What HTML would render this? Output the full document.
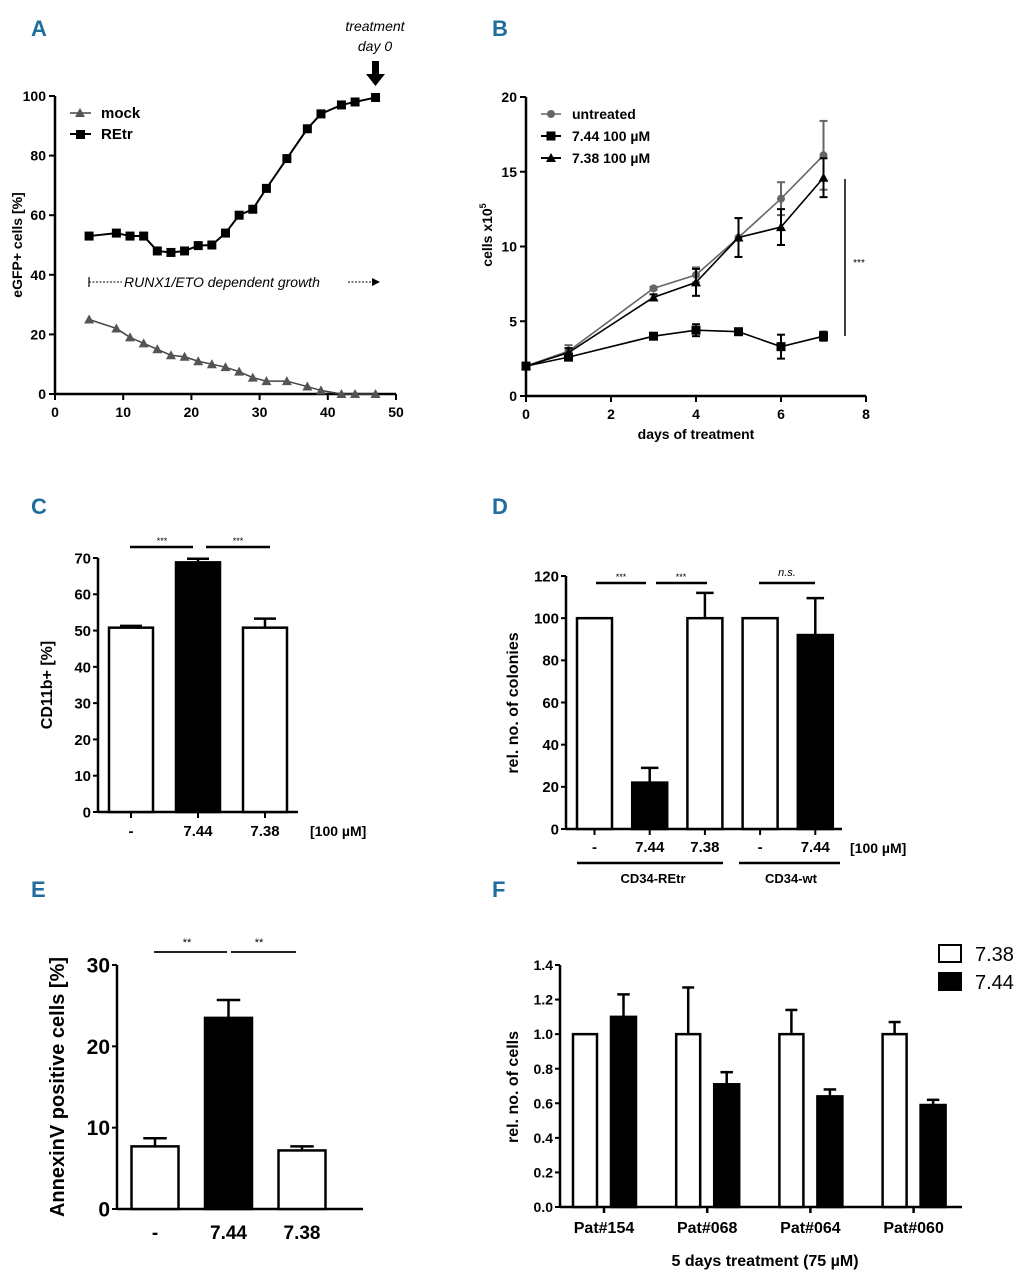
<!DOCTYPE html>
<html><head><meta charset="utf-8"><style>
html,body{margin:0;padding:0;background:#fff;}
svg{display:block;font-family:"Liberation Sans",Arial,sans-serif;}
.pl{fill:#1f6d9c;font-weight:bold;font-size:22px;}
</style></head><body>
<svg id="fig" width="1028" height="1280" viewBox="0 0 1028 1280" xmlns="http://www.w3.org/2000/svg">
<text class="pl" x="31" y="36" transform="scale(1,1)">A</text>
<text class="pl" x="492" y="36">B</text>
<text class="pl" x="31" y="514">C</text>
<text class="pl" x="492" y="514">D</text>
<text class="pl" x="31" y="897">E</text>
<text class="pl" x="492" y="897">F</text>
</svg>
<script>
// ---- Panel A data ----
const aDays = [5,9,11,13,15,17,19,21,23,25,27,29,31,34,37,39,42,44,47];
const aMock = [25,22,19,17,15,13,12.5,11,10,9,7.5,5.5,4.3,4.3,2.5,1.2,0,0,0];
const aREtr = [53,54,53,53,48,47.5,48,49.8,50,54,60,62,69,79,89,94,97,98,99.5];
const aXTicks = [0,10,20,30,40,50];
const aYTicks = [0,20,40,60,80,100];
// ---- Panel B data ----
const bDays = [0,1,3,4,5,6,7];
const bUntreated = [2,3,7.2,8.1,10.6,13.2,16.1];
const bUntreatedErr = [0,0.4,0.1,0.5,1.3,1.1,2.3];
const b744 = [2,2.6,4,4.4,4.3,3.3,4.0];
const b744Err = [0,0.2,0.2,0.4,0.2,0.8,0.3];
const b738 = [2,2.9,6.6,7.6,10.6,11.3,14.6];
const b738Err = [0,0.3,0.2,0.9,1.3,1.2,1.3];
const bXTicks = [0,2,4,6,8];
const bYTicks = [0,5,10,15,20];
// ---- Panel C data ----
const cCats = ['-','7.44','7.38'];
const cVals = [50.8,68.8,50.8];
const cErr = [0.5,1.0,2.5];
const cFill = ['#fff','#000','#fff'];
const cYTicks = [0,10,20,30,40,50,60,70];
// ---- Panel D data ----
const dCats = ['-','7.44','7.38','-','7.44'];
const dVals = [100,22,100,100,92];
const dErr = [0,7,12,0,17.5];
const dFill = ['#fff','#000','#fff','#fff','#000'];
const dYTicks = [0,20,40,60,80,100,120];
// ---- Panel E data ----
const eCats = ['-','7.44','7.38'];
const eVals = [7.7,23.5,7.2];
const eErr = [1.0,2.2,0.5];
const eFill = ['#fff','#000','#fff'];
const eYTicks = [0,10,20,30];
// ---- Panel F data ----
const fCats = ['Pat#154','Pat#068','Pat#064','Pat#060'];
const f738 = [1.0,1.0,1.0,1.0];
const f738Err = [0,0.27,0.14,0.07];
const f744 = [1.1,0.71,0.64,0.59];
const f744Err = [0.13,0.07,0.04,0.03];
const fYTicks = ['0.0','0.2','0.4','0.6','0.8','1.0','1.2','1.4'];

const NS='http://www.w3.org/2000/svg';
const svg=document.getElementById('fig');
function mk(tag,attrs,parent){const e=document.createElementNS(NS,tag);for(const k in attrs)e.setAttribute(k,attrs[k]);(parent||svg).appendChild(e);return e;}
function ln(x1,y1,x2,y2,w,c){return mk('line',{x1:x1,y1:y1,x2:x2,y2:y2,stroke:c||'#000','stroke-width':w||2});}
function tx(x,y,s,size,anchor,extra){const e=mk('text',Object.assign({x:x,y:y,'font-size':size,'text-anchor':anchor||'middle','font-weight':'bold'},extra||{}));e.textContent=s;return e;}

// ===== Panel A =====
const ax=v=>55+v*(341/50), ay=v=>394-v*(298/100);
let el=ln(55,394,396,394,2.5);


el=ln(55,96,55,394,2.5);


aXTicks.forEach(t=>{el=ln(ax(t),394,ax(t),400,2);


el=tx(ax(t),417,String(t),14);

});
aYTicks.forEach(t=>{el=ln(49,ay(t),55,ay(t),2);


el=tx(46,ay(t)+5,String(t),14,'end');

});
el=tx(0,0,'eGFP+ cells [%]',14,'middle',{transform:'translate(22,245) rotate(-90)'});


el=mk('polyline',{points:aDays.map((d,i)=>ax(d)+','+ay(aMock[i])).join(' '),fill:'none',stroke:'#444','stroke-width':1.5});


aDays.forEach((d,i)=>{const x=ax(d),y=ay(aMock[i]);el=mk('polygon',{points:`${x},${y-5} ${x-5},${y+4} ${x+5},${y+4}`,fill:'#555'});

});
el=mk('polyline',{points:aDays.map((d,i)=>ax(d)+','+ay(aREtr[i])).join(' '),fill:'none',stroke:'#000','stroke-width':2});


aDays.forEach((d,i)=>{el=mk('rect',{x:ax(d)-4.5,y:ay(aREtr[i])-4.5,width:9,height:9,fill:'#000'});

});
// legend A
ln(70,113,91,113,1.5,'#444');mk('polygon',{points:'80,108 75,117 85,117',fill:'#555'});
el=tx(101,118,'mock',15,'start');


ln(70,134,91,134,2);mk('rect',{x:76,y:130,width:9,height:9,fill:'#000'});
el=tx(101,139,'REtr',15,'start');


// annotation
ln(89,277,89,287,1.2);
el=mk('line',{x1:89,y1:282,x2:122,y2:282,stroke:'#000','stroke-width':1,'stroke-dasharray':'2,1.5'});
el=tx(124,287,'RUNX1/ETO dependent growth',14,'start',{'font-weight':'normal','font-style':'italic'});


mk('line',{x1:348,y1:282,x2:372,y2:282,stroke:'#000','stroke-width':1,'stroke-dasharray':'2,1.5'});
mk('polygon',{points:'372,278 380,282 372,286',fill:'#000'});
el=tx(375,31,'treatment',14,'middle',{'font-weight':'normal','font-style':'italic'});


tx(375,51,'day 0',14,'middle',{'font-weight':'normal','font-style':'italic'});
mk('rect',{x:372,y:61,width:7,height:14,fill:'#000'});
el=mk('polygon',{points:'366,74 385,74 375.5,86',fill:'#000'});



// ===== Panel B =====
const bx=v=>526+v*42.5, by=v=>396-v*14.95;
el=ln(526,396,866,396,2.5);


el=ln(526,97,526,396,2.5);


bXTicks.forEach(t=>{ln(bx(t),396,bx(t),402,2);
el=tx(bx(t),419,String(t),14);

});
bYTicks.forEach(t=>{ln(520,by(t),526,by(t),2);
el=tx(517,by(t)+5,String(t),14,'end');

});
el=tx(696,439,'days of treatment',14);


el=mk('text',{transform:'translate(492,235) rotate(-90)','font-size':14,'font-weight':'bold','text-anchor':'middle'});
el.innerHTML='cells x10<tspan dy="-6" font-size="9">5</tspan>';


function bSeries(vals,errs,color,shape,name){
  el=mk('polyline',{points:bDays.map((d,i)=>bx(d)+','+by(vals[i])).join(' '),fill:'none',stroke:color,'stroke-width':1.6});
  
  
  bDays.forEach((d,i)=>{const x=bx(d),y=by(vals[i]);
    if(errs[i]>0){ln(x,by(vals[i]-errs[i]),x,by(vals[i]+errs[i]),2,color);ln(x-4,by(vals[i]+errs[i]),x+4,by(vals[i]+errs[i]),2,color);ln(x-4,by(vals[i]-errs[i]),x+4,by(vals[i]-errs[i]),2,color);}
    if(shape==='c')el=mk('circle',{cx:x,cy:y,r:4,fill:color});
    else if(shape==='s')el=mk('rect',{x:x-4.5,y:y-4.5,width:9,height:9,fill:color});
    else el=mk('polygon',{points:`${x},${y-5} ${x-5},${y+4} ${x+5},${y+4}`,fill:color});
    
    });
}
bSeries(bUntreated,bUntreatedErr,'#666','c','b-untreated');
bSeries(b738,b738Err,'#000','t','b-738');
bSeries(b744,b744Err,'#000','s','b-744');
ln(541,114,561,114,1.6,'#666');mk('circle',{cx:551,cy:114,r:4,fill:'#666'});
el=tx(572,119,'untreated',14,'start');


ln(541,136,561,136,2);mk('rect',{x:546.5,y:131.5,width:9,height:9,fill:'#000'});
el=tx(572,141,'7.44 100 µM',14,'start');


ln(541,158,561,158,2);mk('polygon',{points:'551,153 546,162 556,162',fill:'#000'});
el=tx(572,163,'7.38 100 µM',14,'start');


el=ln(845,179,845,336,1.5);


tx(859,266,'***',10,'middle',{'font-weight':'normal'});

// ===== generic bar chart =====
function barPanel(p,o){
  el=ln(o.axX,o.y0,o.axEnd,o.y0,2.5);
  
  
  el=ln(o.axX,o.yTop,o.axX,o.y0,2.5);
  
  
  o.yTicks.forEach(t=>{const y=o.sy(+t);ln(o.axX-5,y,o.axX,y,2);
    el=tx(o.axX-7,y+o.fs*0.36,String(t),o.fs,'end');
    
    });
}
function bar(p,cx,w,val,err,fill,sy,y0){
  el=mk('rect',{x:cx-w/2,y:sy(val),width:w,height:y0-sy(val),fill:fill,stroke:'#000','stroke-width':2.5});
  
  
  if(err>0){ln(cx,sy(val),cx,sy(val+err),2.5);ln(cx-w*0.25,sy(val+err),cx+w*0.25,sy(val+err),2.5);}
}

// ===== Panel C =====
const cy=v=>812-v*(254/70);
barPanel('c',{axX:98,axEnd:298,y0:812,yTop:558,sy:cy,yTicks:cYTicks,fs:15});
cCats.forEach((c,i)=>{const x=131+i*67;bar('c',x,44,cVals[i],cErr[i],cFill[i],cy,812);ln(x,812,x,818,2);
  el=tx(x,836,c,15);
  
  });
el=tx(310,836,'[100 µM]',14,'start');


el=tx(0,0,'CD11b+ [%]',16,'middle',{transform:'translate(52,685) rotate(-90)'});


ln(130,547,193,547,2.5);ln(206,547,270,547,2.5);
tx(162,544,'***',9,'middle',{'font-weight':'normal'});tx(238,544,'***',9,'middle',{'font-weight':'normal'});

// ===== Panel D =====
const dy=v=>829-v*(253/120);
barPanel('d',{axX:566,axEnd:842,y0:829,yTop:576,sy:dy,yTicks:dYTicks,fs:15});
dCats.forEach((c,i)=>{const x=594.5+i*55.2;bar('d',x,35,dVals[i],dErr[i],dFill[i],dy,829);ln(x,829,x,835,2);
  el=tx(x,852,c,15);
  
  });
el=tx(850,853,'[100 µM]',14,'start');


el=tx(0,0,'rel. no. of colonies',16,'middle',{transform:'translate(518,703) rotate(-90)'});


ln(596,583,646,583,2.5);ln(656,583,707,583,2.5);ln(759,583,815,583,2.5);
tx(621,580,'***',9,'middle',{'font-weight':'normal'});tx(681,580,'***',9,'middle',{'font-weight':'normal'});
tx(787,576,'n.s.',11,'middle',{'font-weight':'normal','font-style':'italic'});
ln(577,863,723,863,2.5);ln(739,863,840,863,2.5);
el=tx(653,883,'CD34-REtr',13);


el=tx(791,883,'CD34-wt',13);



// ===== Panel E =====
const ey=v=>1209-v*(244/30);
barPanel('e',{axX:117,axEnd:363,y0:1209,yTop:965,sy:ey,yTicks:eYTicks,fs:21});
eCats.forEach((c,i)=>{const x=155+i*73.5;bar('e',x,47,eVals[i],eErr[i],eFill[i],ey,1209);
  el=tx(x,1239,c,19);
  
  });
el=tx(0,0,'AnnexinV positive cells [%]',20,'middle',{transform:'translate(64,1087) rotate(-90)'});


ln(154,952,227,952,1.8);ln(231,952,296,952,1.8);
tx(187,946,'**',11,'middle',{'font-weight':'normal'});tx(259,946,'**',11,'middle',{'font-weight':'normal'});

// ===== Panel F =====
const fy=v=>1207-v*(242/1.4);
barPanel('f',{axX:560,axEnd:962,y0:1207,yTop:965,sy:fy,yTicks:fYTicks,fs:14});
fCats.forEach((c,i)=>{const g=604+i*103.2;bar('f-738',g-19,24,f738[i],f738Err[i],'#fff',fy,1207);bar('f-744',g+19.5,25,f744[i],f744Err[i],'#000',fy,1207);
  ln(g,1207,g,1213,2.5);
  el=tx(g,1233,c,16);
  
  });
el=tx(765,1266,'5 days treatment (75 µM)',16);


el=tx(0,0,'rel. no. of cells',16,'middle',{transform:'translate(518,1087) rotate(-90)'});


el=mk('rect',{x:939,y:945,width:22,height:17,fill:'#fff',stroke:'#000','stroke-width':2});


el=tx(975,961,'7.38',20,'start',{'font-weight':'normal'});


el=mk('rect',{x:938,y:972,width:24,height:19,fill:'#000'});


el=tx(975,989,'7.44',20,'start',{'font-weight':'normal'});


</script>
</body></html>
